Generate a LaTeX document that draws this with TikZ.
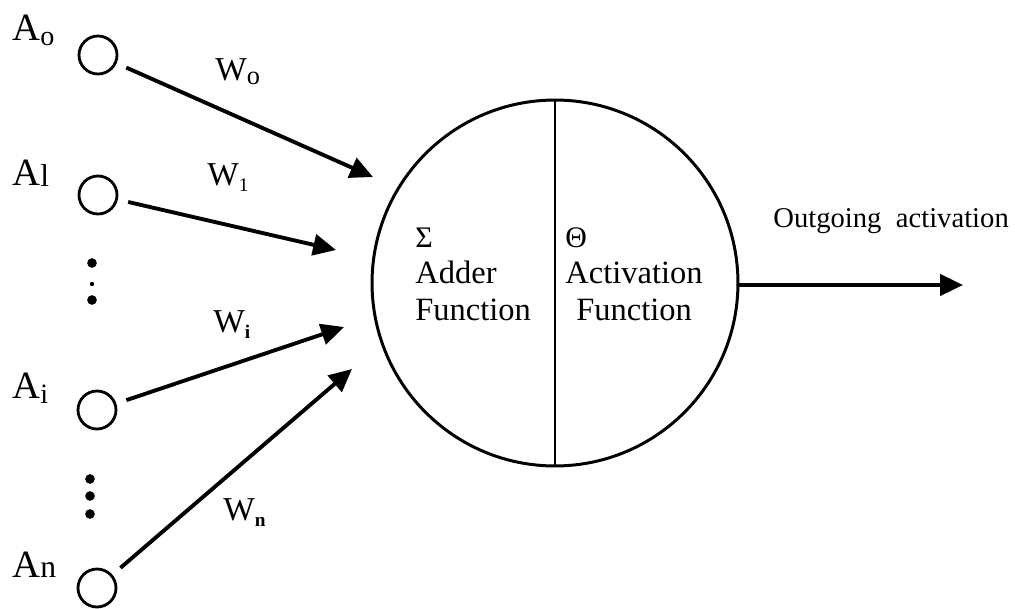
\documentclass[tikz,border=0pt]{standalone}
\usepackage{fontspec}
\setmainfont{Liberation Serif}
\usetikzlibrary{arrows.meta}
\begin{document}
\begin{tikzpicture}[x=0.02cm,y=-0.02cm,
  inputnode/.style={circle,draw,line width=1.6pt,minimum size=0.76cm,inner sep=0pt},
  neuronbody/.style={circle,draw,line width=1.7pt,minimum size=7.32cm,inner sep=0pt},
  weightarrow/.style={line width=2.2pt,shorten <=6pt,-{Triangle[length=13pt,width=12pt]}},
  inlabel/.style={anchor=base west,inner sep=0pt,font=\fontsize{22}{24}\selectfont},
  wlabel/.style={anchor=base west,inner sep=0pt,font=\fontsize{19}{21}\selectfont},
  bodytext/.style={anchor=base west,inner sep=0pt,font=\fontsize{18.5}{20}\selectfont},
  greek/.style={anchor=base west,inner sep=0pt,font=\fontsize{17}{18}\selectfont},
  dotbig/.style={circle,fill,inner sep=0pt,minimum size=5.5pt},
  dotsmall/.style={circle,fill,inner sep=0pt,minimum size=2.5pt}]
\useasboundingbox (0,0) rectangle (1015,609);

% input units
\node[inputnode] (a0) at (98,55) {};
\node[inputnode] (a1) at (98,195) {};
\node[inputnode] (ai) at (97,410) {};
\node[inputnode] (an) at (97,588) {};

\node[inlabel] (la0) at (12,40) {A\raisebox{-0.3ex}{\fontsize{16}{16}\selectfont o}};
\node[inlabel] (la1) at (12,185) {A\raisebox{-0.1ex}{\fontsize{18}{18}\selectfont l}};
\node[inlabel] (lai) at (12,398) {A\raisebox{-0.3ex}{\fontsize{16}{16}\selectfont i}};
\node[inlabel] (lan) at (12,577) {A\raisebox{-0.05ex}{\fontsize{18}{18}\selectfont n}};

% ellipsis dots
\node[dotbig] (d1) at (92,263) {};
\node[dotsmall] (d2) at (92,284) {};
\node[dotbig] (d3) at (92,300) {};
\node[dotbig] (d4) at (90,479) {};
\node[dotbig] (d5) at (90,496) {};
\node[dotbig] (d6) at (90,514) {};

% neuron body split into adder and activation halves
\node[neuronbody] (neuron) at (555,283) {};
\draw[line width=1.7pt] (neuron.north) -- (neuron.south);

\node[greek] (sigma) at (415,247) {Σ};
\node[bodytext] (adder1) at (415,283) {Adder};
\node[bodytext] (adder2) at (415,320) {Function};
\node[greek] (theta) at (565,247) {Θ};
\node[bodytext] (act1) at (565,283) {Activation};
\node[bodytext] (act2) at (576,320) {Function};

% weighted connections
\coordinate (t0) at (373,177);
\coordinate (t1) at (336,250);
\coordinate (ti) at (344,327);
\coordinate (tn) at (352,369);
\draw[weightarrow] (a0) -- (t0);
\draw[weightarrow] (a1) -- (t1);
\draw[weightarrow] (ai) -- (ti);
\draw[weightarrow] (an) -- (tn);

\node[wlabel] (w0) at (215,80) {W\raisebox{-0.3ex}{\fontsize{15}{16}\selectfont o}};
\node[wlabel] (w1) at (207,185) {W\raisebox{-0.4ex}{\fontsize{11}{12}\selectfont 1}};
\node[wlabel] (wi) at (213,332) {W\raisebox{-0.4ex}{\fontsize{11}{12}\selectfont\bfseries i}};
\node[wlabel] (wn) at (223,520) {W\raisebox{-0.4ex}{\fontsize{11}{12}\selectfont\bfseries n}};

% output
\coordinate (out) at (963,285);
\draw[line width=2.2pt,-{Triangle[length=13pt,width=12pt]}] (neuron.east |- out) -- (out);
\node[anchor=base west,inner sep=0pt,font=\fontsize{16.3}{18}\selectfont] (outlabel) at (773,227) {Outgoing\ \ activation};
\end{tikzpicture}
\end{document}
